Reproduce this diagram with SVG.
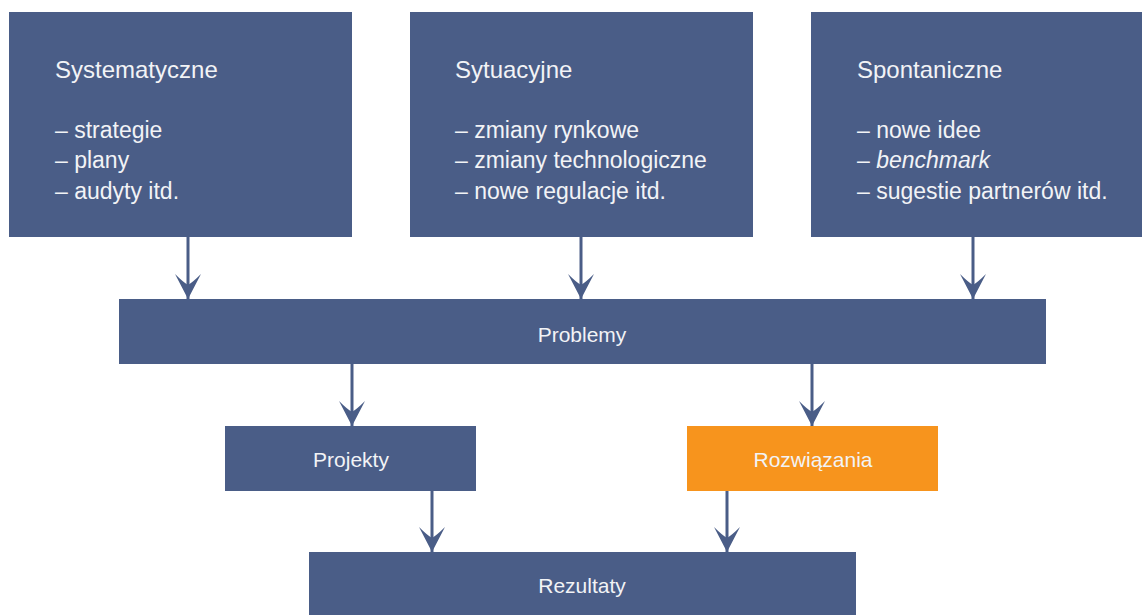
<svg xmlns="http://www.w3.org/2000/svg" width="1142" height="615" viewBox="0 0 1142 615">
<style>
.box{fill:#4a5d87}
.orange{fill:#f7941d}
.t{font-family:"Liberation Sans",Arial,sans-serif;fill:#f2f3f6}
.title{font-size:24px}
.item{font-size:23px}
.lbl{font-size:21px;text-anchor:middle}
.conn{stroke:#4a5d87;stroke-width:3;fill:none;marker-end:url(#ah)}
</style>
<defs>
<marker id="ah" markerUnits="userSpaceOnUse" viewBox="-26 -14 27 28" markerWidth="27" markerHeight="28" refX="0" refY="0" orient="auto">
<path d="M0,0 L-25,-13 Q-17,-5 -14,0 Q-17,5 -25,13 Z" fill="#4a5d87"/>
</marker>
</defs>
<rect width="1142" height="615" fill="#ffffff"/>
<g id="connectors">
<line class="conn" x1="188" y1="237" x2="188" y2="299"/>
<line class="conn" x1="581" y1="237" x2="581" y2="299"/>
<line class="conn" x1="973" y1="237" x2="973" y2="299"/>
<line class="conn" x1="352" y1="364" x2="352" y2="426"/>
<line class="conn" x1="812" y1="364" x2="812" y2="426"/>
<line class="conn" x1="432" y1="491" x2="432" y2="552"/>
<line class="conn" x1="727" y1="491" x2="727" y2="552"/>
</g>
<g id="systematyczne">
<rect class="box" x="9" y="12" width="343" height="225"/>
<text class="t title" x="55" y="78">Systematyczne</text>
<text class="t item" x="55" y="138">– strategie</text>
<text class="t item" x="55" y="168">– plany</text>
<text class="t item" x="55" y="199">– audyty itd.</text>
</g>
<g id="sytuacyjne">
<rect class="box" x="410" y="12" width="343" height="225"/>
<text class="t title" x="455" y="78">Sytuacyjne</text>
<text class="t item" x="455" y="138">– zmiany rynkowe</text>
<text class="t item" x="455" y="168">– zmiany technologiczne</text>
<text class="t item" x="455" y="199">– nowe regulacje itd.</text>
</g>
<g id="spontaniczne">
<rect class="box" x="811" y="12" width="331" height="225"/>
<text class="t title" x="857" y="78">Spontaniczne</text>
<text class="t item" x="857" y="138">– nowe idee</text>
<text class="t item" x="857" y="168">– <tspan font-style="italic">benchmark</tspan></text>
<text class="t item" x="857" y="199">– sugestie partnerów itd.</text>
</g>
<g id="problemy">
<rect class="box" x="119" y="299" width="927" height="65"/>
<text class="t lbl" x="582" y="342">Problemy</text>
</g>
<g id="projekty">
<rect class="box" x="225" y="426" width="251" height="65"/>
<text class="t lbl" x="351" y="467">Projekty</text>
</g>
<g id="rozwiazania">
<rect class="orange" x="687" y="426" width="251" height="65"/>
<text class="t lbl" x="813" y="467">Rozwiązania</text>
</g>
<g id="rezultaty">
<rect class="box" x="309" y="552" width="547" height="63"/>
<text class="t lbl" x="582" y="593">Rezultaty</text>
</g>
</svg>
